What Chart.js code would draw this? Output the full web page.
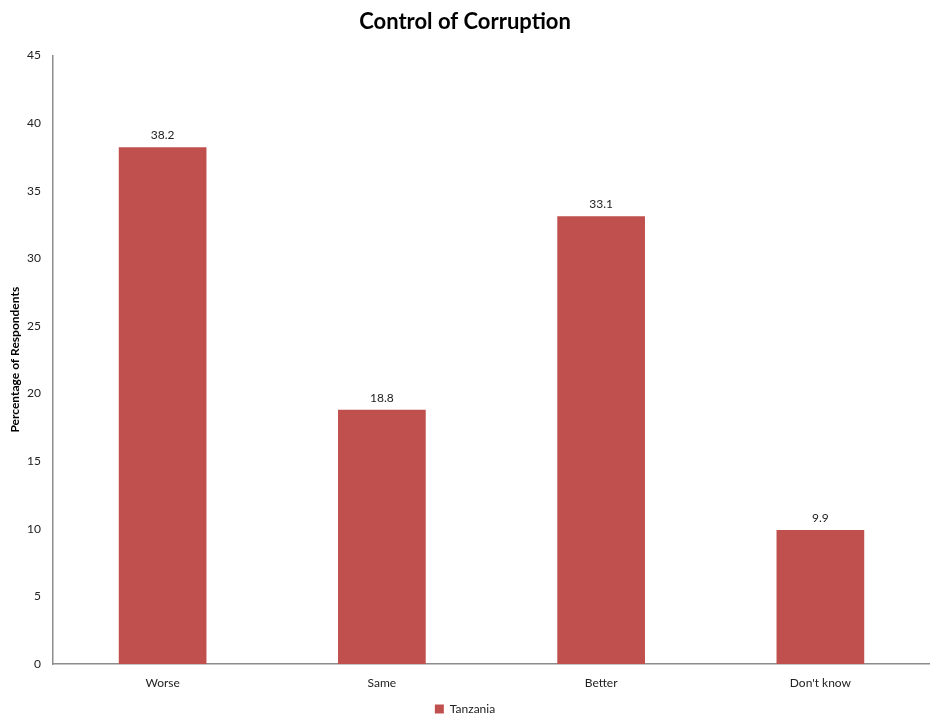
<!DOCTYPE html>
<html>
<head>
<meta charset="utf-8">
<script src="https://cdn.jsdelivr.net/npm/chart.js@4/dist/chart.umd.min.js"></script>
<style>
  html, body { margin: 0; padding: 0; background: #fff; }
  #wrap { width: 930px; height: 720px; position: relative; }
</style>
</head>
<body>
<div id="wrap"><canvas id="corruptionChart"></canvas></div>
<script>
const categories = ['Worse', 'Same', 'Better', "Don't know"];
const tanzaniaValues = [38.2, 18.8, 33.1, 9.9];
const seriesName = 'Tanzania';
const yTicks = [0, 5, 10, 15, 20, 25, 30, 35, 40, 45];

const FONT = 'Lato, "Open Sans", sans-serif';

// draws the value above each bar
const valueLabels = {
    id: 'valueLabels',
    afterDatasetsDraw(chart) {
        const ctx = chart.ctx;
        ctx.save();
        ctx.font = '12px ' + FONT;
        ctx.fillStyle = '#222';
        ctx.textAlign = 'center';
        ctx.textBaseline = 'bottom';
        chart.getDatasetMeta(0).data.forEach(function(bar, i) {
            ctx.fillText(tanzaniaValues[i].toFixed(1), bar.x, bar.y - 6);
        });
        ctx.restore();
    }
};

const ctx = document.getElementById('corruptionChart').getContext('2d');
new Chart(ctx, {
    type: 'bar',
    data: {
        labels: categories,
        datasets: [{
            label: seriesName,
            data: tanzaniaValues,
            backgroundColor: '#C0504D',
            categoryPercentage: 1,
            barPercentage: 0.4
        }]
    },
    options: {
        responsive: true,
        maintainAspectRatio: false,
        animation: false,
        layout: { padding: { left: 0, right: 0, top: 0, bottom: -5 } },
        plugins: {
            title: {
                display: true,
                text: 'Control of Corruption',
                color: '#000',
                font: { family: FONT, size: 22, weight: 'bold' },
                padding: { top: 9, bottom: 20 }
            },
            legend: {
                position: 'bottom',
                labels: {
                    color: '#222',
                    font: { family: FONT, size: 12 },
                    boxWidth: 9,
                    boxHeight: 9,
                    padding: 1
                }
            },
            tooltip: { enabled: false }
        },
        scales: {
            x: {
                afterFit(scale) { scale.height = 38; },
                grid: { display: false, drawTicks: false },
                border: { color: '#8c8c8c', width: 1.5 },
                ticks: { color: '#222', font: { family: FONT, size: 12 }, padding: 12 }
            },
            y: {
                min: 0,
                max: 45,
                afterBuildTicks(scale) {
                    scale.ticks = yTicks.map(v => ({ value: v }));
                },
                afterFit(scale) { scale.width = 53; },
                grid: { display: false, drawOnChartArea: false, drawTicks: true, tickLength: 5, color: '#8c8c8c' },
                border: { color: '#8c8c8c', width: 1.5 },
                ticks: { color: '#222', font: { family: FONT, size: 12 }, padding: 7 },
                title: {
                    display: true,
                    text: 'Percentage of Respondents',
                    color: '#000',
                    font: { family: FONT, size: 12, weight: 'bold' },
                    padding: { top: 8, bottom: 0 }
                }
            }
        }
    },
    plugins: [valueLabels]
});
</script>
</body>
</html>
